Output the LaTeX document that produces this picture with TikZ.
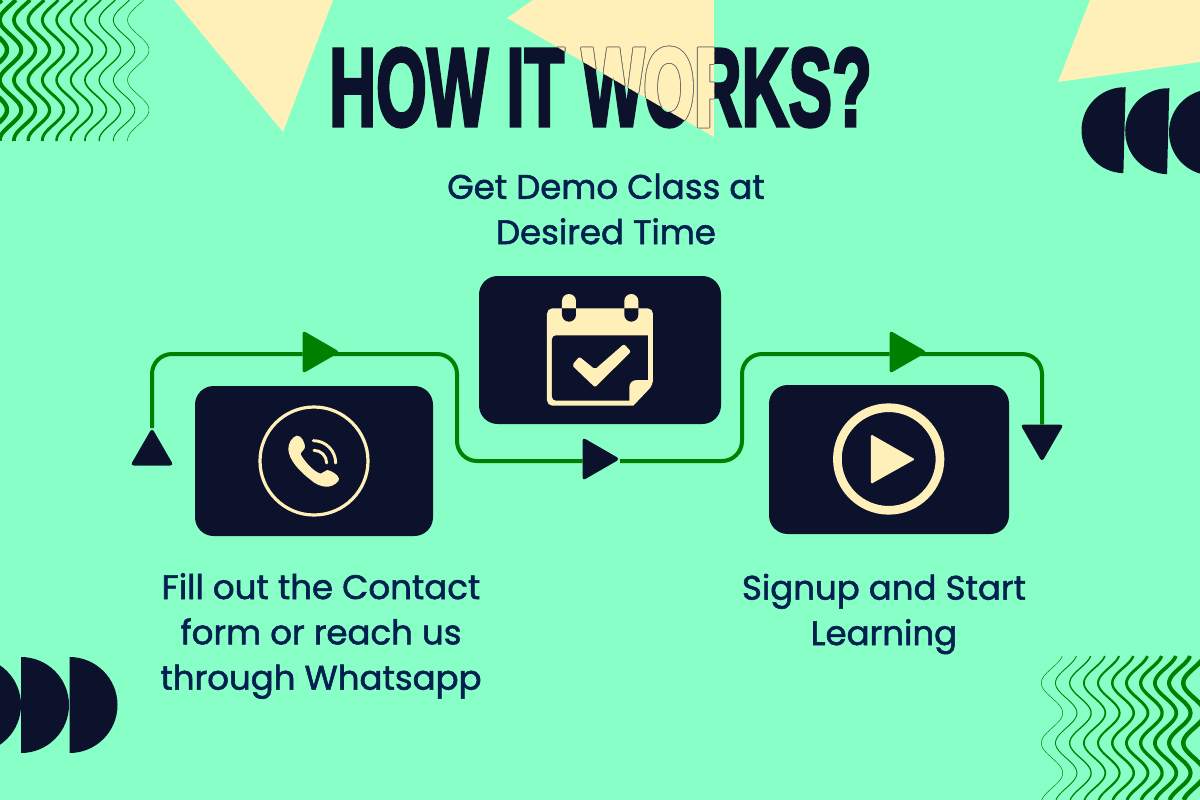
\documentclass[tikz,border=0pt]{standalone}
\usepackage{fontspec}
\usepackage{graphicx}
\usetikzlibrary{shapes.geometric}

\newfontfamily\titlefont[BoldFeatures={FakeBold=3.5}]{Liberation Sans}
\newfontfamily\stepfont[FakeBold=1.6]{Poppins}
\newcommand{\titletext}{\resizebox{407pt}{58pt}{\titlefont\bfseries HOW IT WORKS?}}

\definecolor{pagemint}{HTML}{87FFC7}
\definecolor{boxdark}{HTML}{0C122B}
\definecolor{iconcream}{HTML}{FFF0B9}
\definecolor{flowgreen}{HTML}{008000}
\definecolor{textnavy}{HTML}{02204F}
\definecolor{edgegray}{HTML}{6A6A68}

\tikzset{
  stepbox/.style={fill=boxdark,rounded corners=14pt,inner sep=0pt,outer sep=0pt},
  steptext/.style={text=textnavy,align=center,inner sep=0pt,font=\stepfont\fontsize{25.5}{34}\selectfont},
  flowtri/.style={regular polygon,regular polygon sides=3,minimum size=37.5pt,inner sep=0pt,outer sep=0pt,rounded corners=2.6pt},
  flowline/.style={draw=flowgreen,line width=3pt,rounded corners=15pt},
  titlenode/.style={inner sep=0pt,outer sep=0pt},
  waveline/.style={draw=flowgreen,line join=round},
}

\begin{document}
\begin{tikzpicture}[x=0.75pt,y=0.75pt,yscale=-1]
\useasboundingbox (0,0) rectangle (1200,800);
\clip (0,0) rectangle (1200,800);
\fill[pagemint] (0,0) rectangle (1200,800);

%Background triangles
\fill[iconcream] (174,0) -- (333,0) -- (283,132) -- cycle;
\fill[iconcream] (1090,0) -- (1200,0) -- (1200,62) -- (1058,82) -- cycle;

%Wave stripes
\foreach \i in {0,...,10} {
  \pgfmathsetmacro{\wavewidth}{0.35+0.3*\i}
  \draw[waveline,line width=\wavewidth pt] plot[variable=\t,domain=0:141,samples=142] ({138.3-14.2*\i+10.7*cos(6*(\t-50))},\t);
  \draw[waveline,line width=\wavewidth pt] plot[variable=\t,domain=656:800,samples=145] ({1052+14.2*\i+10.7*cos(6*(\t-713))},\t);
}

%Half discs
\foreach \cx/\cy in {1124.5/130.2,1168.2/131.2,1212/132.3} {
  \fill[boxdark,shift={(\cx,\cy)},rotate=1.5] (0,-43) arc (-90:-270:43) -- cycle;
}
\foreach \cx in {-27,21,69.5} {
  \fill[boxdark,shift={(\cx,705)}] (0,-48) arc (-90:90:48) -- cycle;
}

% Title
\node (title) at (600.5,87.5) [titlenode,text=boxdark] {\titletext};
\begin{scope}
\clip (507,18) -- (533,0) -- (714,0) -- (714,137) -- cycle;
\fill[iconcream] (507,0) rectangle (714,137);
\foreach \dx/\dy [count=\n] in {-0.8/0,0.8/0,0/-0.8,0/0.8,-0.6/-0.6,0.6/-0.6,-0.6/0.6,0.6/0.6} {
  \node (titleedge\n) at (600.5+\dx,87.5+\dy) [titlenode,text=edgegray] {\titletext};
}
\node (titlefill) at (600.5,87.5) [titlenode,text=iconcream] {\titletext};
\end{scope}

% Step boxes
\node (callbox) at (314,461) [stepbox,minimum width=178.5pt,minimum height=112.5pt] {};
\node (calendarbox) at (600,350) [stepbox,minimum width=181.5pt,minimum height=111pt] {};
\node (playbox) at (889,459.5) [stepbox,minimum width=180pt,minimum height=111.75pt] {};

% Step texts
\node (calltext) at (321,636) [steptext] {Fill out the Contact\\form or reach us\\through Whatsapp};
\node (calendartext) at (606,209) [steptext] {Get Demo Class at\\Desired Time};
\node (playtext) at (884,614) [steptext] {Signup and Start\\Learning};

% Flow triangles
\node (triup) at (152,453) [flowtri,fill=boxdark] {};
\node (tria) at (315,352) [flowtri,fill=flowgreen,shape border rotate=-90] {};
\node (trib) at (595,459) [flowtri,fill=boxdark,shape border rotate=-90] {};
\node (tric) at (902,352) [flowtri,fill=flowgreen,shape border rotate=-90] {};
\node (tridown) at (1042,437) [flowtri,fill=boxdark,shape border rotate=180] {};

%Flow bends
\coordinate (benda) at (152,354);
\coordinate (bendb) at (457,354);
\coordinate (bendc) at (457,461);
\coordinate (bendd) at (742,461);
\coordinate (bende) at (742,354);
\coordinate (bendf) at (1042,354);

%Flow lines
\draw[flowline] (triup.north) -- (benda) -- (tria.west |- benda);
\draw[flowline] (tria.center |- benda) -- (bendb) -- (bendc) -- (trib.west |- bendc);
\draw[flowline] (trib.east |- bendc) -- (bendd) -- (bende) -- (tric.west |- bende);
\draw[flowline] (tric.center |- bende) -- (bendf) -- (tridown.north);

%Phone icon
\draw[iconcream,line width=2.4pt] (callbox.center) circle (54);
\begin{scope}[shift={(190,380)},scale=0.3333]
\fill[iconcream] (320,167) .. controls (305,172) and (295,190) .. (295,207) .. controls (296,240) and (330,275) .. (360,298) .. controls (375,312) and (395,322) .. (415,320) .. controls (432,318) and (448,305) .. (447,296) .. controls (445,285) and (425,272) .. (412,270) .. controls (405,270) and (400,280) .. (392,281) .. controls (370,275) and (340,240) .. (332,222) .. controls (332,215) and (345,210) .. (345,200) .. controls (345,190) and (335,165) .. (320,167) -- cycle;
\draw[iconcream,line width=2.2pt,line cap=round] (370,182) arc (-90:0:67);
\draw[iconcream,line width=2.2pt,line cap=round] (372,211) arc (-90:0:38);
\end{scope}

%Calendar icon
\begin{scope}[shift={(470,270)},scale=0.3333]
\fill[iconcream,rounded corners=4pt] (231,115) -- (549,115) -- (549,345) [sharp corners] -- (490,407) [rounded corners=4pt] -- (231,407) -- cycle;
\fill[boxdark,rounded corners=3pt] (246,196) [sharp corners] -- (534,196) -- (534,330) -- (500,330) .. controls (485,330) and (478,340) .. (478,352) -- (478,392) [rounded corners=3pt] -- (246,392) -- cycle;
\foreach \rx in {276,463} {
  \fill[iconcream,shift={(\rx,0)}] (0,115) -- (0,93) arc (180:360:21) -- (42,115) -- cycle;
  \fill[boxdark,shift={(\rx,0)}] (0,115) -- (0,134) arc (180:0:21) -- (42,115) -- cycle;
}
\fill[iconcream,rounded corners=1.5pt] (328,260) -- (375,298) -- (462,222) -- (483,245) -- (375,352) -- (306,286) -- cycle;
\end{scope}

%Play icon
\draw[iconcream,line width=6.5pt] (888.7,459) circle (51.3);
\begin{scope}[shift={(760,320)},scale=0.3333]
\fill[iconcream,rounded corners=1pt] (333,343) -- (465,418) -- (333,492) -- cycle;
\end{scope}

\end{tikzpicture}
\end{document}
